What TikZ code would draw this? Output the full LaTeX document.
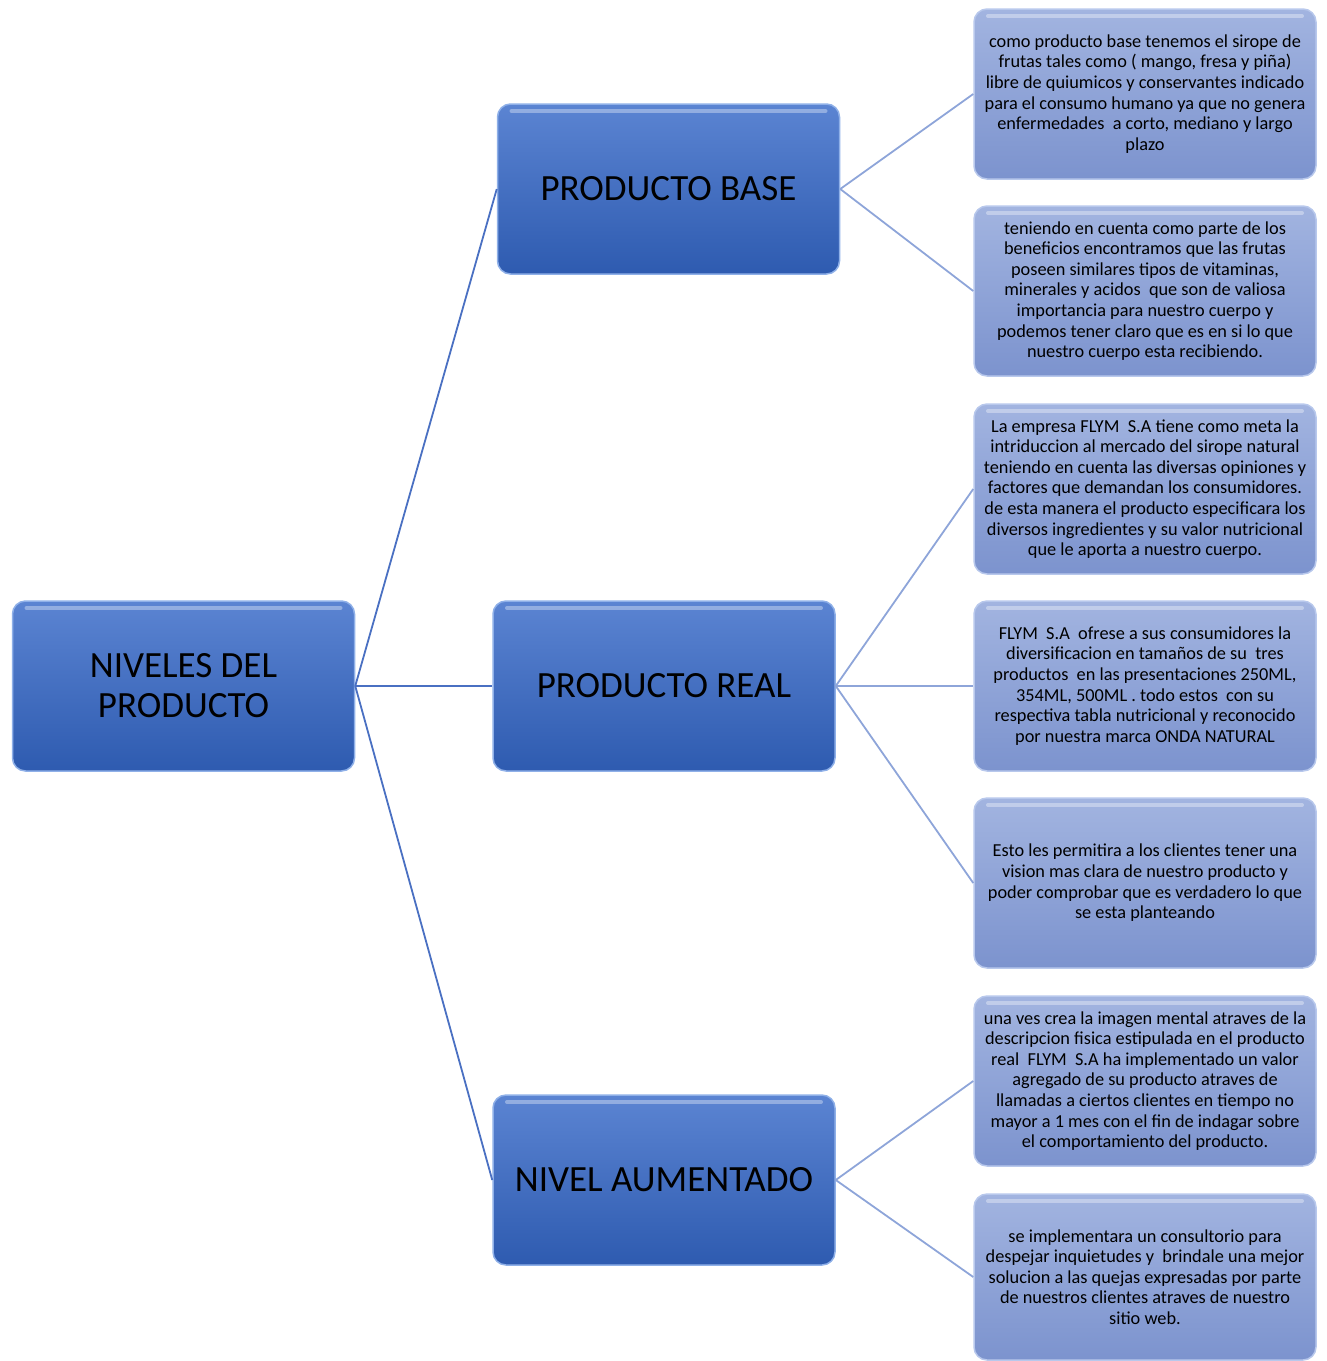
\documentclass[tikz,border=0pt]{standalone}
\usepackage{fontspec}
\setmainfont{Carlito}
\definecolor{ltop}{HTML}{5B84D2}
\definecolor{lbot}{HTML}{2E5BB0}
\definecolor{ledge}{HTML}{8FB0E8}
\definecolor{stop}{HTML}{A2B4E0}
\definecolor{sbot}{HTML}{7C93CE}
\definecolor{sedge}{HTML}{B8C8EC}
\definecolor{lineA}{HTML}{4A70C2}
\definecolor{lineB}{HTML}{8EA5D9}
\begin{document}
\begin{tikzpicture}[x=1pt,y=-1pt,
  gloss/.style={path picture={\draw[white,opacity=0.35,line width=4pt,line cap=round]
      ([xshift=14pt,yshift=-7pt]path picture bounding box.north west) --
      ([xshift=-14pt,yshift=-7pt]path picture bounding box.north east);}},
  lvl/.style={gloss,rounded corners=13pt, minimum width=342pt, minimum height=170pt,
    top color=ltop, bottom color=lbot, draw=ledge, line width=1.5pt,
    font=\fontsize{37}{40}\selectfont, align=center, inner sep=0pt, text=black},
  leaf/.style={gloss,rounded corners=13pt, minimum width=342pt, minimum height=170pt,
    top color=stop, bottom color=sbot, draw=sedge, line width=1.5pt,
    font=\fontsize{18.3}{20.6}\selectfont, align=center, inner sep=0pt, text=black},
  conA/.style={draw=lineA, line width=1.8pt},
  conB/.style={draw=lineB, line width=1.8pt}]
\useasboundingbox (0,0) rectangle (1327,1361);

\node[lvl] (root) at (183.5,686) {NIVELES DEL\\PRODUCTO};
\node[lvl] (pb) at (668.5,189) {PRODUCTO BASE};
\node[lvl] (pr) at (664,686) {PRODUCTO REAL};
\node[lvl] (na) at (664,1180) {NIVEL AUMENTADO};

\node[leaf] (b1) at (1145,94) {como producto base tenemos el sirope de\\frutas tales como ( mango, fresa y piña)\\libre de quiumicos y conservantes indicado\\para el consumo humano ya que no genera\\enfermedades\ \ a corto, mediano y largo\\plazo};
\node[leaf] (b2) at (1145,291) {teniendo en cuenta como parte de los\\beneficios encontramos que las frutas\\poseen similares tipos de vitaminas,\\minerales y acidos\ \ que son de valiosa\\importancia para nuestro cuerpo y\\podemos tener claro que es en si lo que\\nuestro cuerpo esta recibiendo.};
\node[leaf] (r1) at (1145,489) {La empresa FLYM\ \ S.A tiene como meta la\\intriduccion al mercado del sirope natural\\teniendo en cuenta las diversas opiniones y\\factores que demandan los consumidores.\\de esta manera el producto especificara los\\diversos ingredientes y su valor nutricional\\que le aporta a nuestro cuerpo.};
\node[leaf] (r2) at (1145,686) {FLYM\ \ S.A\ \ ofrese a sus consumidores la\\diversificacion en tamaños de su\ \ tres\\productos\ \ en las presentaciones 250ML,\\354ML, 500ML . todo estos\ \ con su\\respectiva tabla nutricional y reconocido\\por nuestra marca ONDA NATURAL};
\node[leaf] (r3) at (1145,883) {Esto les permitira a los clientes tener una\\vision mas clara de nuestro producto y\\poder comprobar que es verdadero lo que\\se esta planteando};
\node[leaf] (a1) at (1145,1081) {una ves crea la imagen mental atraves de la\\descripcion fisica estipulada en el producto\\real\ \ FLYM\ \ S.A ha implementado un valor\\agregado de su producto atraves de\\llamadas a ciertos clientes en tiempo no\\mayor a 1 mes con el fin de indagar sobre\\el comportamiento del producto.};
\node[leaf, minimum height=166pt] (a2) at (1145,1277) {se implementara un consultorio para\\despejar inquietudes y\ \ brindale una mejor\\solucion a las quejas expresadas por parte\\de nuestros clientes atraves de nuestro\\sitio web.};

\draw[conA] (root.east) -- (pb.west);
\draw[conA] (root.east) -- (pr.west);
\draw[conA] (root.east) -- (na.west);
\draw[conB] (pb.east) -- (b1.west);
\draw[conB] (pb.east) -- (b2.west);
\draw[conB] (pr.east) -- (r1.west);
\draw[conB] (pr.east) -- (r2.west);
\draw[conB] (pr.east) -- (r3.west);
\draw[conB] (na.east) -- (a1.west);
\draw[conB] (na.east) -- (a2.west);
\end{tikzpicture}
\end{document}
